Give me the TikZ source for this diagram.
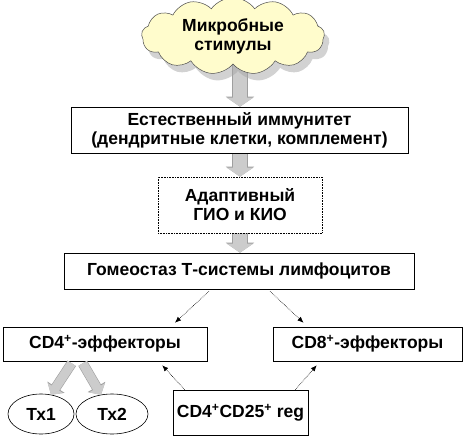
\documentclass[tikz,border=0pt]{standalone}
\usepackage{fontspec}
\setmainfont{Liberation Sans}
\usetikzlibrary{arrows.meta,calc,shapes.symbols,shapes.geometric,shadows,backgrounds}

\begin{document}
\begin{tikzpicture}[
  x=1pt, y=-1pt,
  font=\fontsize{17.5}{19}\selectfont\bfseries,
  box/.style={draw, line width=0.6pt, fill=white, align=center, inner sep=0pt},
  dbox/.style={box, densely dotted},
  cell/.style={draw, ellipse, line width=0.6pt, fill=white, inner sep=0pt, minimum height=40pt},
  barrow/.style={line width=14pt, draw=gray!40, -{Triangle[length=9pt,width=26pt]},
                 preaction={draw=gray!75, line width=15.2pt, -{Triangle[length=10pt,width=28pt]}}},
  tarrow/.style={line width=9pt, draw=gray!40, -{Triangle[length=8pt,width=18pt]},
                 preaction={draw=gray!75, line width=10.2pt, -{Triangle[length=9pt,width=20pt]}}},
  link/.style={densely dotted, line width=0.6pt, -{Latex[length=6pt,width=5pt]}}
]
\useasboundingbox (0,0) rectangle (465,438);
\node[cloud, cloud puffs=13, cloud puff arc=110, cloud ignores aspect, align=center,
      minimum width=183pt, minimum height=66pt, draw=black!70, line width=0.5pt,
      fill=yellow!20, drop shadow={shadow xshift=5pt, shadow yshift=-7pt, fill=gray!70}]
      (stim) at (233,36) {Микробные\\стимулы};
\node[box, minimum width=337pt, minimum height=46pt] (innate) at (239.5,130)
      {Естественный иммунитет\\(дендритные клетки, комплемент)};
\node[dbox, minimum width=164pt, minimum height=56pt] (adapt) at (240,205)
      {Адаптивный\\ГИО и КИО};
\node[box, minimum width=350pt, minimum height=36pt] (homeo) at (239,271)
      {Гомеостаз Т-системы лимфоцитов};
\node[box, minimum width=204pt, minimum height=34pt] (cd4) at (105,344)
      {CD4\textsuperscript{+}-эффекторы};
\node[box, minimum width=189pt, minimum height=34pt] (cd8) at (367.5,344)
      {CD8\textsuperscript{+}-эффекторы};
\node[box, minimum width=135pt, minimum height=45pt] (reg) at (240.5,412.5)
      {CD4\textsuperscript{+}CD25\textsuperscript{+} reg};
\node[cell, minimum width=66pt] (tx1) at (41,414) {Тх1};
\node[cell, minimum width=72pt] (tx2) at (112,414) {Тх2};
\begin{scope}[on background layer]
  \foreach \a/\b in {stim/innate, innate/adapt, adapt/homeo}
    \draw[barrow] (adapt.center |- \a.south) -- (adapt.center |- \b.north);
\end{scope}
\draw[link] ($(homeo.south)+(-30,2)$) -- ($(cd4.north)+(70,-4)$);
\draw[link] ($(homeo.south)+(31,2)$) -- ($(cd8.north)+(-64,-4)$);
\draw[link] ($(reg.north west)+(12,0)$) -- ($(cd4.south east)+(-45,4)$);
\draw[link] ($(reg.north east)+(-13,0)$) -- ($(cd8.south west)+(44,4)$);
\draw[tarrow] ($(cd4.south west)+(69,2)$) -- ($(tx1.north)+(10,1)$);
\draw[tarrow] ($(cd4.south west)+(80,2)$) -- ($(tx2.north)+(-11,1)$);
\end{tikzpicture}
\end{document}
